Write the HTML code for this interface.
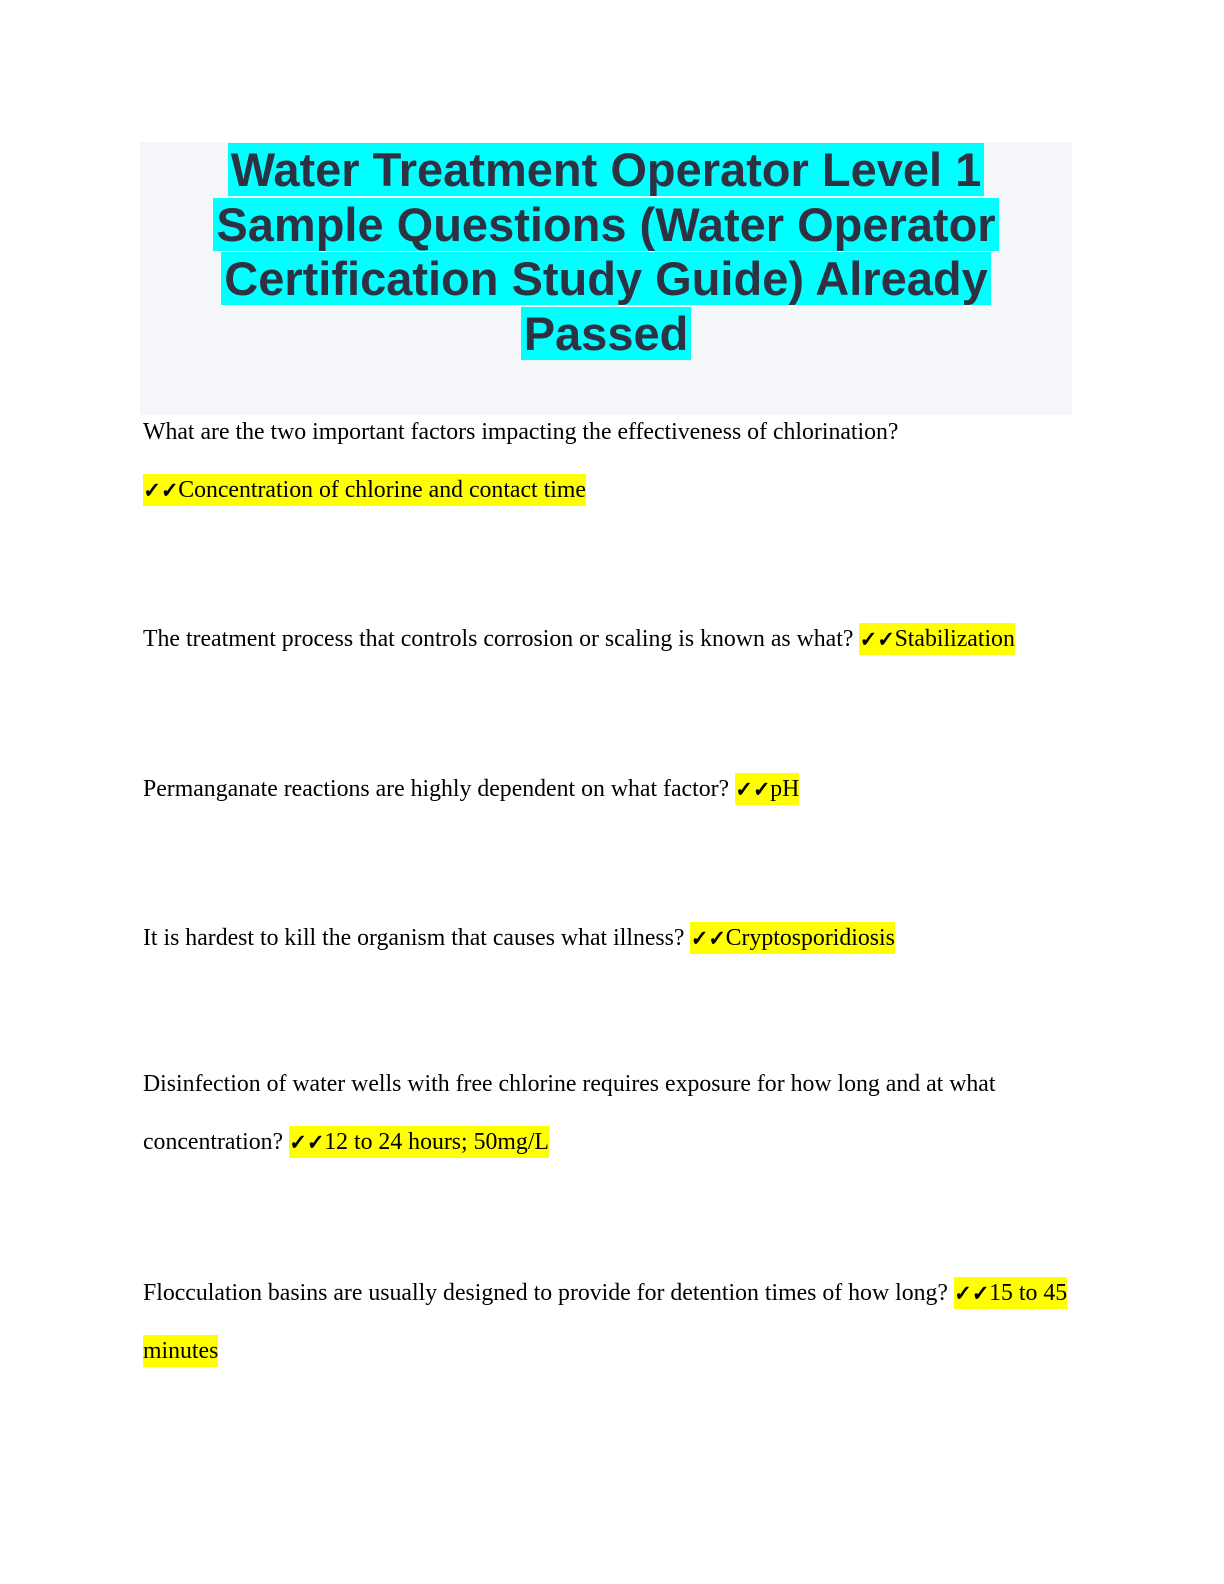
<!DOCTYPE html>
<html><head><meta charset="utf-8"><style>
html,body{margin:0;padding:0;background:#fff}
body{width:1224px;height:1584px;position:relative;overflow:hidden}
.tbox{position:absolute;left:140px;top:142px;width:932px;height:273px;background:#f5f6fa}
.title{position:absolute;left:140px;top:143px;width:932px;text-align:center;font-family:"Liberation Sans",sans-serif;font-weight:bold;font-size:47px;line-height:54.5px;color:#2d3142}
.title span{background:#00ffff;padding:0 3px}
.t{position:absolute;left:143px;font-family:"Liberation Serif",serif;font-size:23.8px;line-height:26px;color:#000;white-space:nowrap}
.h{background:#ffff00;padding:3px 0}
.c{font-family:"DejaVu Sans",sans-serif;font-size:21px;font-weight:bold;letter-spacing:0px;text-shadow:1px 0 0 #000,0 1px 0 #000}
</style></head><body>
<div class="tbox"></div>
<div class="title"><span>Water Treatment Operator Level 1</span><br><span>Sample Questions (Water Operator</span><br><span>Certification Study Guide) Already</span><br><span>Passed</span></div>
<div class="t" style="top:419px">What are the two important factors impacting the effectiveness of chlorination?</div>
<div class="t" style="top:477px"><span class="h"><span class="c">✓✓</span>Concentration of chlorine and contact time</span></div>
<div class="t" style="top:626px">The treatment process that controls corrosion or scaling is known as what? <span class="h"><span class="c">✓✓</span>Stabilization</span></div>
<div class="t" style="top:776px">Permanganate reactions are highly dependent on what factor? <span class="h"><span class="c">✓✓</span>pH</span></div>
<div class="t" style="top:925px">It is hardest to kill the organism that causes what illness? <span class="h"><span class="c">✓✓</span>Cryptosporidiosis</span></div>
<div class="t" style="top:1071px">Disinfection of water wells with free chlorine requires exposure for how long and at what</div>
<div class="t" style="top:1129px">concentration? <span class="h"><span class="c">✓✓</span>12 to 24 hours; 50mg/L</span></div>
<div class="t" style="top:1280px">Flocculation basins are usually designed to provide for detention times of how long? <span class="h"><span class="c">✓✓</span>15 to 45</span></div>
<div class="t" style="top:1338px"><span class="h">minutes</span></div>
</body></html>
